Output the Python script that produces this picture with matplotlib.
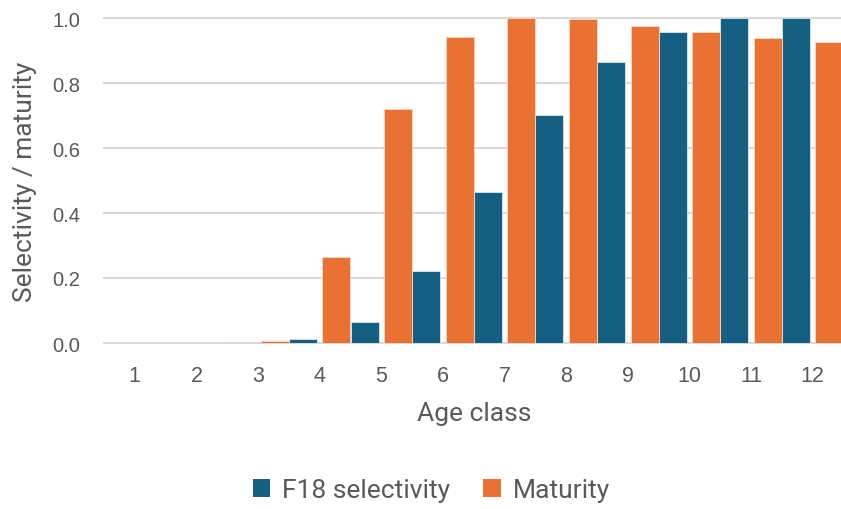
import numpy as np
import matplotlib
matplotlib.use("Agg")
import matplotlib.pyplot as plt
from matplotlib.patches import Patch

# Age classes and the two series
age_classes = ["1", "2", "3", "4", "5", "6", "7", "8", "9", "10", "11", "12"]
selectivity = [0.0, 0.0, 0.004, 0.012, 0.065, 0.222, 0.466, 0.702, 0.865, 0.956, 1.0, 1.0]
maturity = [0.0, 0.0, 0.006, 0.265, 0.720, 0.942, 1.0, 0.996, 0.976, 0.956, 0.939, 0.926]
y_ticks = [0.0, 0.2, 0.4, 0.6, 0.8, 1.0]

BLUE = "#156082"
ORANGE = "#E97132"
TEXT = "#595959"
GRID = "#D9D9D9"
TITLE_FONT = ["Roboto", "DejaVu Sans"]
TICK_FONT = ["Liberation Sans", "DejaVu Sans"]

fig = plt.figure(figsize=(8.41, 5.10), dpi=100)
W, H = 841, 510
left, right, top, bottom = 104, 843.5, 19, 344
ax = fig.add_axes([left / W, 1 - bottom / H, (right - left) / W, (bottom - top) / H])

x = np.arange(len(age_classes))
bw = 0.455
off = 0.272
ax.bar(x - off, selectivity, width=bw, color=BLUE, edgecolor="#DDE8EE",
       linewidth=0.6, zorder=3, label="F18 selectivity")
ax.bar(x + off, maturity, width=bw, color=ORANGE, edgecolor="#F8D9C8",
       linewidth=0.6, zorder=3, label="Maturity")

ax.set_xlim(-0.5, len(age_classes) - 0.5)
ax.set_ylim(0, 1.0)
ax.set_yticks(y_ticks)
ax.set_yticklabels([f"{v:.1f}" for v in y_ticks], fontfamily=TICK_FONT,
                   fontsize=14.5, color=TEXT)
ax.set_xticks(x)
ax.set_xticklabels(age_classes, fontfamily=TICK_FONT, fontsize=15.5, color=TEXT)
ax.tick_params(axis="both", length=0)
ax.tick_params(axis="y", pad=17)
ax.tick_params(axis="x", pad=16)

for v in y_ticks:
    ax.axhline(v, color=GRID, linewidth=1.5, zorder=1, clip_on=False)
for s in ax.spines.values():
    s.set_visible(False)

ax.set_xlabel("Age class", fontfamily=TITLE_FONT, fontsize=19, color=TEXT, labelpad=11)
ax.set_ylabel("Selectivity / maturity", fontfamily=TITLE_FONT, fontsize=19,
              color=TEXT, labelpad=11)

handles = [Patch(facecolor=BLUE, label="F18 selectivity"),
           Patch(facecolor=ORANGE, label="Maturity")]
fig.legend(handles=handles, loc="center", bbox_to_anchor=(0.513, 0.037), ncol=2,
           frameon=False, prop={"family": TITLE_FONT, "size": 19},
           labelcolor=TEXT, handlelength=0.65, handleheight=0.65,
           handletextpad=0.45, columnspacing=1.25)

fig.savefig("out.png", dpi=100)
